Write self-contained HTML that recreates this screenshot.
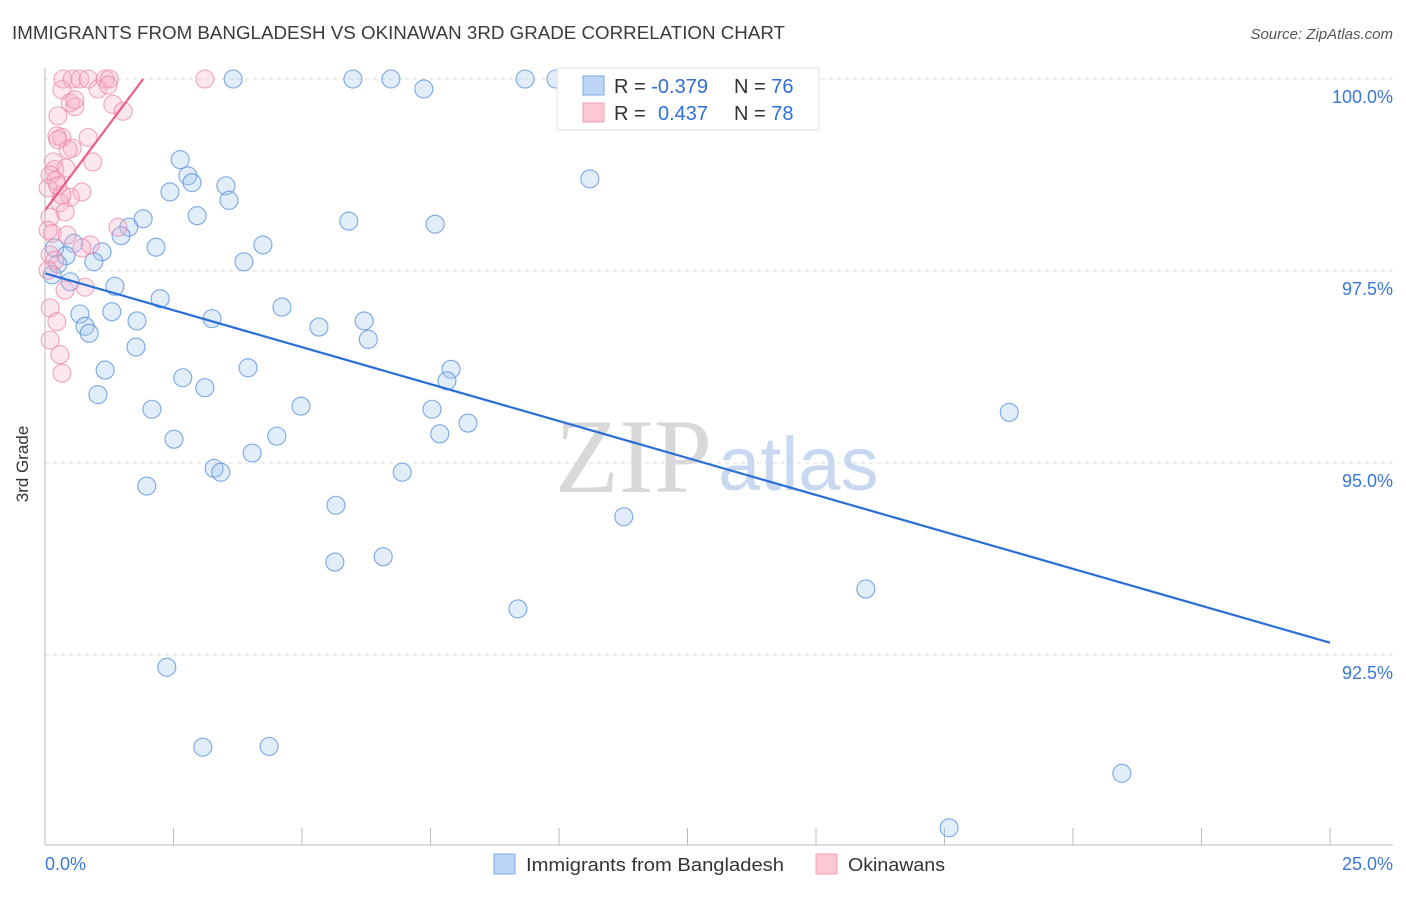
<!DOCTYPE html>
<html><head><meta charset="utf-8"><style>
body{margin:0;background:#fff;font-family:"Liberation Sans",sans-serif}
</style></head><body>
<svg width="1406" height="892" xmlns="http://www.w3.org/2000/svg" font-family="Liberation Sans, sans-serif">
<text x="12" y="39" font-size="18" fill="#3a3a3a" textLength="773" lengthAdjust="spacingAndGlyphs">IMMIGRANTS FROM BANGLADESH VS OKINAWAN 3RD GRADE CORRELATION CHART</text>
<text x="1393" y="39" font-size="15" fill="#555" font-style="italic" text-anchor="end">Source: ZipAtlas.com</text>
<g id="grid"></g>
<g><text x="555" y="492" font-size="106" font-family="Liberation Serif, serif" fill="#d8d8d8" textLength="157" lengthAdjust="spacingAndGlyphs">ZIP</text><text x="718" y="490" font-size="76" fill="#c8d8f0">atlas</text></g>
<g id="pts"></g>
<g id="lines"></g>
<line x1="45" y1="68" x2="45" y2="845" stroke="#bbb"/>
<line x1="45" y1="845" x2="1393" y2="845" stroke="#bbb"/>
<text x="20" y="456" font-size="17" fill="#333" transform="rotate(-90 28 456)" text-anchor="middle">3rd Grade</text>
<text x="45" y="870" font-size="18" fill="#3a78d8">0.0%</text>
<text x="1393" y="870" font-size="18" fill="#3a78d8" text-anchor="end">25.0%</text>
<g>
<rect x="557" y="68" width="262" height="62" fill="#fff" stroke="#ddd"/>
<rect x="583" y="76" width="21" height="19" fill="#bcd5f5" stroke="#7aa8e8"/>
<rect x="583" y="103" width="21" height="19" fill="#fcc8d6" stroke="#f0a0b8"/>
<text x="614" y="93" font-size="20" fill="#333">R = <tspan fill="#2f6fd6">-0.379</tspan></text>
<text x="734" y="93" font-size="20" fill="#333">N = <tspan fill="#2f6fd6">76</tspan></text>
<text x="614" y="120" font-size="20" fill="#333">R = <tspan fill="#2f6fd6" x="658">0.437</tspan></text>
<text x="734" y="120" font-size="20" fill="#333">N = <tspan fill="#2f6fd6">78</tspan></text>
</g>
<g>
<rect x="494" y="854" width="21" height="20" fill="#bcd5f5" stroke="#7aa8e8"/>
<text x="526" y="871" font-size="18" fill="#333" textLength="258" lengthAdjust="spacingAndGlyphs">Immigrants from Bangladesh</text>
<rect x="816" y="854" width="21" height="20" fill="#fcc8d6" stroke="#f0a0b8"/>
<text x="848" y="871" font-size="18" fill="#333" textLength="97" lengthAdjust="spacingAndGlyphs">Okinawans</text>
</g>
</svg>
<script>
const yTicks=[100,97.5,95,92.5];
const yTickLabels=["100.0%","97.5%","95.0%","92.5%"];
const xTicks=[0,2.5,5,7.5,10,12.5,15,17.5,20,22.5,25];
const blueX=[3.66,5.99,6.73,7.37,9.34,9.94,2.63,2.78,2.86,2.43,3.52,3.58,10.6,2.96,1.91,5.91,7.59,1.63,1.48,2.16,4.24,3.87,0.56,1.11,0.19,0.41,0.25,0.95,0.14,0.49,1.36,2.24,4.61,1.30,0.68,1.79,3.25,5.33,6.21,0.78,0.86,6.29,1.77,3.95,7.90,7.82,1.17,2.68,3.11,1.03,4.98,2.08,7.53,18.76,8.23,7.68,2.51,4.51,4.03,3.29,3.42,6.95,1.98,5.66,11.26,5.64,6.58,9.20,15.97,2.37,3.07,4.36,20.95,17.59];
const blueY=[100,100,100,99.87,100,100,98.95,98.74,98.65,98.53,98.61,98.42,98.70,98.22,98.18,98.15,98.11,98.07,97.96,97.81,97.84,97.62,97.86,97.75,97.80,97.70,97.59,97.62,97.45,97.36,97.30,97.14,97.03,96.97,96.94,96.85,96.88,96.77,96.85,96.78,96.69,96.61,96.51,96.24,96.22,96.07,96.21,96.11,95.98,95.89,95.74,95.70,95.70,95.66,95.52,95.38,95.31,95.35,95.13,94.93,94.88,94.88,94.70,94.45,94.30,93.71,93.78,93.10,93.36,92.34,91.30,91.31,90.96,90.25];
const pinkX=[0.35,0.53,0.68,0.84,1.17,1.25,3.11,0.33,0.49,0.58,1.03,1.23,1.32,1.52,0.25,0.23,0.33,0.84,0.53,0.45,0.93,0.16,0.19,0.10,0.21,0.41,0.72,0.49,0.29,0.39,0.10,0.14,1.42,0.43,0.88,0.72,0.10,0.78,0.39,0.10,0.23,0.10,0.29,0.33,0.06,0.25,0.33,0.06,0.19,0.06,0.58,0.25];
const pinkY=[100,100,100,100,100,100,100,99.86,99.69,99.64,99.87,99.92,99.67,99.58,99.52,99.26,99.24,99.24,99.10,99.08,98.92,98.92,98.82,98.75,98.68,98.84,98.53,98.46,98.39,98.27,98.20,97.99,98.07,97.97,97.84,97.80,97.71,97.29,97.25,97.02,96.84,96.60,96.41,96.17,98.58,98.61,98.49,98.03,97.64,97.51,99.73,99.21];
const blueTrend=[[0,97.47],[25,92.66]];
const pinkTrend=[[0,98.29],[1.91,100]];
const X=v=>45+v/25*1285, Y=v=>79+(100-v)/2.5*192;
const NS="http://www.w3.org/2000/svg";
function mk(t,a,p){const e=document.createElementNS(NS,t);for(const k in a)e.setAttribute(k,a[k]);p.appendChild(e);return e;}
const grid=document.getElementById('grid');
yTicks.forEach((v,i)=>{
 const l=mk('line',{x1:45,x2:1393,y1:Y(v),y2:Y(v),stroke:'#ddd','stroke-dasharray':'4 4'},grid);
 
 
 const t=mk('text',{x:1393,y:Y(v)+24,'font-size':18,fill:'#3a78d8','text-anchor':'end'},grid);
 t.textContent=yTickLabels[i];
 
 
});
xTicks.forEach(v=>{
 const l=mk('line',{x1:X(v),x2:X(v),y1:828,y2:845,stroke:'#bbb'},grid);
 
 
});
const pts=document.getElementById('pts');
blueX.forEach((v,i)=>{
 const c=mk('circle',{cx:X(v),cy:Y(blueY[i]),r:9,fill:'rgba(160,195,240,0.3)',stroke:'rgba(80,140,220,0.75)','stroke-width':1.1},pts);
 
 
});
pinkX.forEach((v,i)=>{
 const c=mk('circle',{cx:X(v),cy:Y(pinkY[i]),r:9,fill:'rgba(248,175,198,0.3)',stroke:'rgba(235,130,165,0.7)','stroke-width':1.1},pts);
 
 
});
const lines=document.getElementById('lines');
const bl=mk('line',{x1:X(blueTrend[0][0]),y1:Y(blueTrend[0][1]),x2:X(blueTrend[1][0]),y2:Y(blueTrend[1][1]),stroke:'#2a6fd6','stroke-width':2.2},lines);


const pl=mk('line',{x1:X(pinkTrend[0][0]),y1:Y(pinkTrend[0][1]),x2:X(pinkTrend[1][0]),y2:Y(pinkTrend[1][1]),stroke:'#e8608a','stroke-width':2.2},lines);


</script>
</body></html>
